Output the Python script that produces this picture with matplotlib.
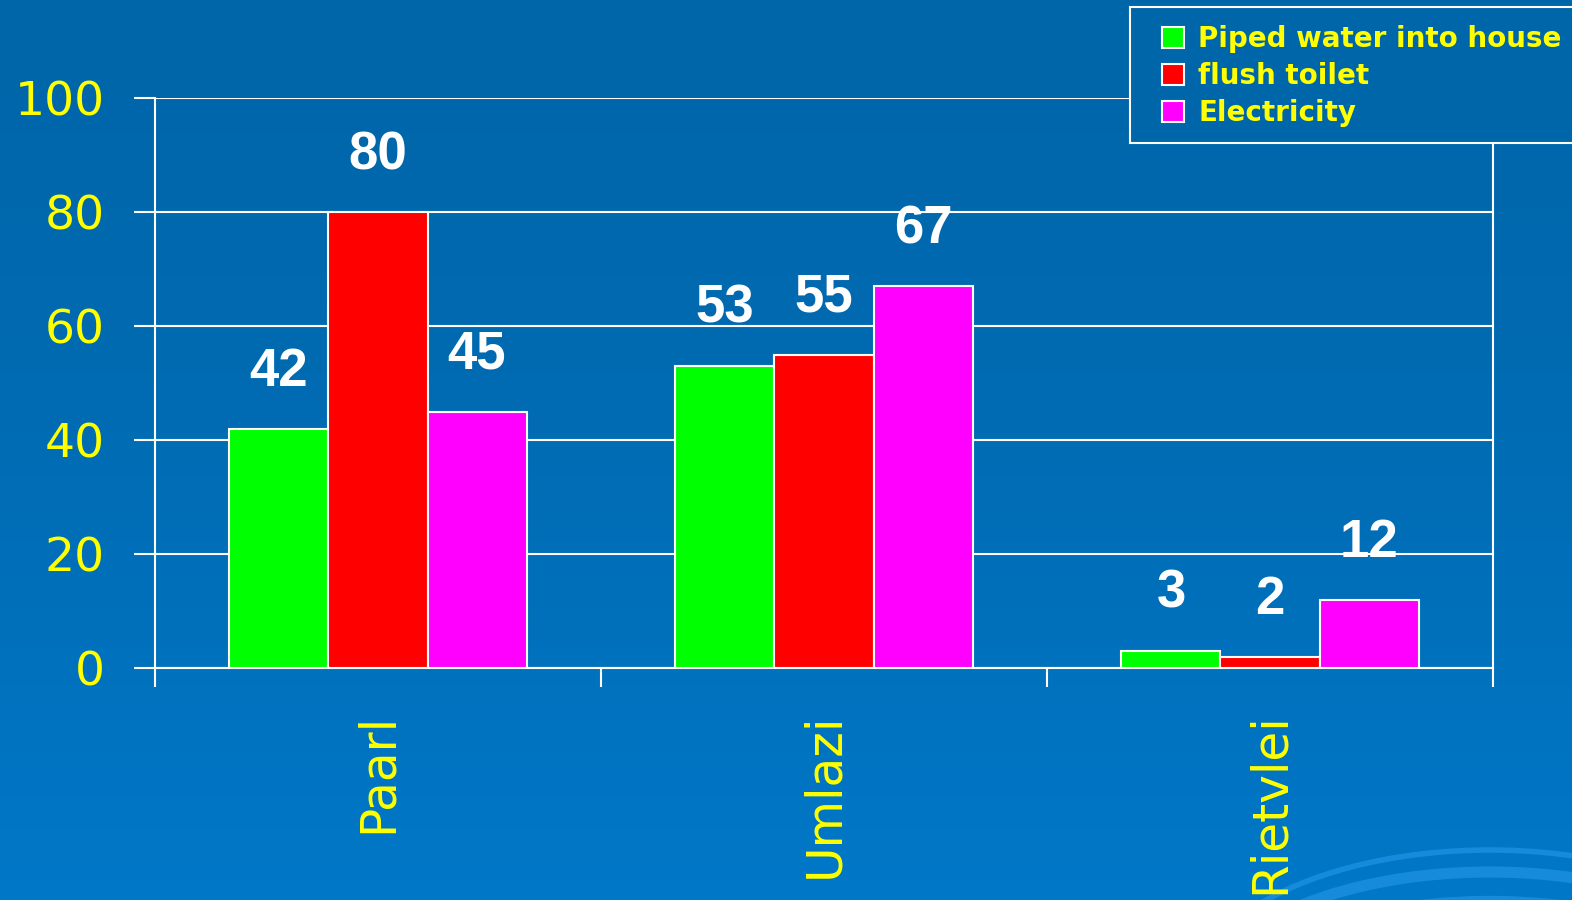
import matplotlib
matplotlib.use("Agg")
import matplotlib.pyplot as plt
from matplotlib.patches import Arc, Rectangle
import numpy as np

places = ["Paarl", "Umlazi", "Rietvlei"]
series = ["Piped water into house", "flush toilet", "Electricity"]
piped = [42, 53, 3]
toilet = [80, 55, 2]
electricity = [45, 67, 12]
yticks = [0, 20, 40, 60, 80, 100]

colors = ["#00FF00", "#FF0000", "#FF00FF"]
yellow = "#FFFF00"
bg_top = "#0066AA"

fig = plt.figure(figsize=(15.72, 9), dpi=100)

# background gradient + decorative arcs
bg = fig.add_axes([0, 0, 1, 1], zorder=-10)
grad = np.linspace(0, 1, 256).reshape(-1, 1)
top = np.array([0x00, 0x66, 0xAA]) / 255
bot = np.array([0x00, 0x78, 0xC8]) / 255
img = top + (bot - top) * grad[:, :, None] ** 1.5
bg.imshow(img, aspect="auto", extent=[0, 1572, 900, 0])
for (cy, rw, rh, lw) in [(1000, 300, 150, 4), (1010, 290, 138, 8), (1020, 270, 120, 6)]:
    bg.add_patch(Arc((1490, cy), 2 * rw, 2 * rh, theta1=200, theta2=340,
                     color="#1A8FE0", lw=lw, alpha=0.85, zorder=2))
bg.set_xlim(0, 1572)
bg.set_ylim(900, 0)
bg.axis("off")

ax = fig.add_axes([155 / 1572, 1 - 668 / 900, (1493 - 155) / 1572, (668 - 98) / 900])
ax.set_facecolor("none")

x = np.arange(len(places))
w = 0.222
for i, (vals, c, name) in enumerate(zip([piped, toilet, electricity], colors, series)):
    bars = ax.bar(x + (i - 1) * w, vals, w, color=c, edgecolor="white",
                  linewidth=1.5, label=name, zorder=3)
    for b, v in zip(bars, vals):
        ax.annotate(str(v), (b.get_x() + b.get_width() / 2, v),
                    xytext=(0, 41), textcoords="offset points",
                    ha="center", va="center", color="white",
                    fontsize=38, fontweight="bold", family="Liberation Sans")

ax.set_xlim(-0.5, len(places) - 0.5)
ax.set_ylim(0, 100)
ax.set_yticks(yticks)
ax.grid(axis="y", color="white", lw=1.5, zorder=1)
ax.tick_params(axis="y", colors="white", width=1.5, length=15, pad=21,
               labelcolor=yellow, labelsize=34)
ax.set_xticks(np.arange(-0.5, len(places)))
ax.set_xticklabels([])
ax.set_xticks(x, minor=True)
ax.set_xticklabels(places, minor=True, rotation=90, va="top", ha="center")
ax.tick_params(axis="x", which="major", colors="white", width=1.5, length=14)
ax.tick_params(axis="x", which="minor", length=0, pad=32, labelcolor=yellow,
               labelsize=35)
for s in ["left", "right", "bottom"]:
    ax.spines[s].set_color("white")
    ax.spines[s].set_linewidth(1.5)
ax.spines["top"].set_visible(False)

# legend box, running off the right edge and covering the axes corner
box = Rectangle((1130 / 1572, 1 - 143 / 900), 500 / 1572, 136 / 900,
                transform=fig.transFigure, fc=bg_top, ec="white", lw=1.5,
                zorder=5)
fig.add_artist(box)

leg = fig.legend(loc="upper left", bbox_to_anchor=(1162 / 1572, 1 - 25 / 900),
                 prop={"size": 20, "weight": "bold"}, frameon=False,
                 handlelength=0.8, handleheight=0.8, handletextpad=0.5,
                 labelspacing=0.32, borderpad=0, borderaxespad=0)
leg.set_zorder(6)
for t in leg.get_texts():
    t.set_color(yellow)

fig.savefig("out.png", dpi=100)
